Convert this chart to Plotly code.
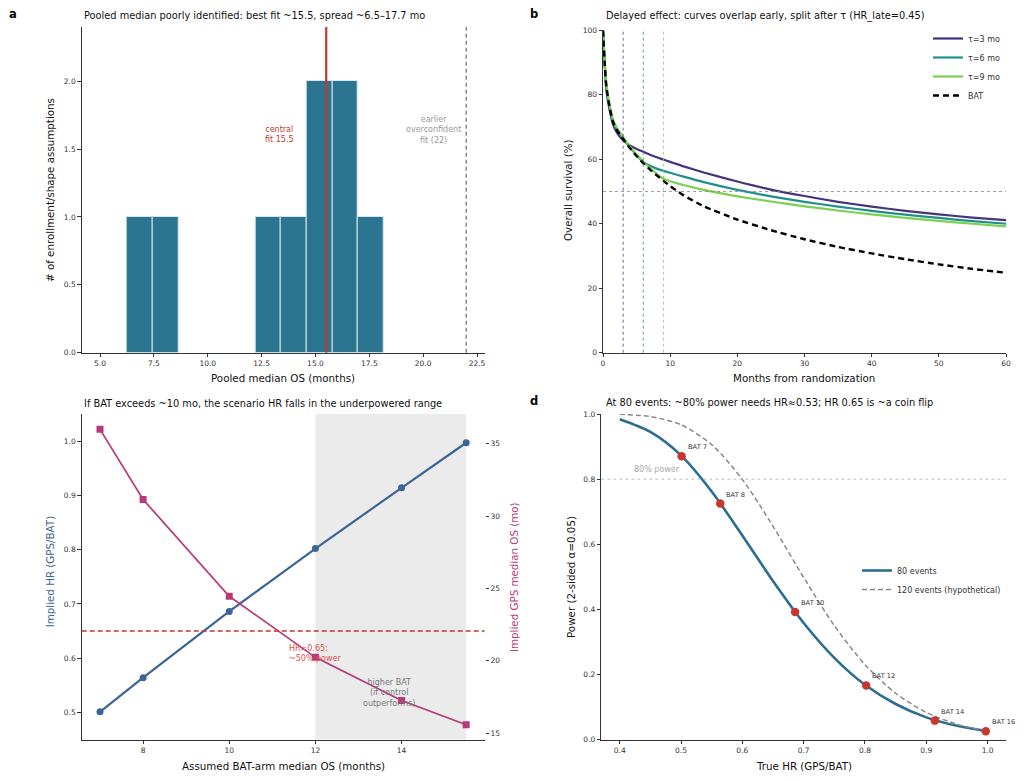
import plotly.graph_objects as go

# ---------------- data ----------------
# panel a: histogram of pooled median OS fits
hist_edges = [6.24, 7.43, 8.63, 9.82, 11.01, 12.21, 13.40, 14.60, 15.79, 16.98, 18.18]
hist_counts = [1, 1, 0, 0, 0, 1, 1, 2, 2, 1]
central_fit = 15.5
earlier_fit = 22.0

# panel b: survival curves (months, % surviving)
months = [0, 0.25, 0.5, 1, 1.5, 2, 3, 4, 5, 6, 7, 8, 9, 10, 11, 12, 15, 20, 25, 30, 35, 40, 45, 50, 55, 60]
os_tau3 = [100, 89.5, 81.5, 75.0, 70.8, 68.5, 65.8, 64.3, 63.2, 62.3, 61.4, 60.6, 59.9, 59.2, 58.5, 57.8, 55.9, 53.1, 50.6, 48.6, 46.8, 45.3, 44.0, 42.9, 41.9, 41.1]
os_tau6 = [100, 90.0, 82.5, 76.0, 71.7, 69.4, 66.5, 63.7, 61.3, 59.0, 58.0, 57.1, 56.4, 55.8, 55.2, 54.6, 52.9, 50.5, 48.5, 46.8, 45.3, 44.0, 42.8, 41.8, 40.8, 40.0]
os_tau9 = [100, 90.5, 83.3, 76.8, 72.3, 70.0, 66.9, 64.0, 61.5, 59.3, 57.3, 55.5, 54.0, 53.2, 52.6, 52.0, 50.5, 48.5, 46.9, 45.4, 44.1, 42.9, 41.8, 40.9, 40.0, 39.2]
os_bat = [100, 90.0, 82.5, 76.0, 71.5, 69.3, 66.3, 63.5, 61.0, 58.8, 56.8, 55.0, 53.3, 51.7, 50.2, 48.8, 45.4, 41.3, 38.0, 35.2, 32.8, 30.8, 29.0, 27.4, 26.0, 24.8]
tau_values = [3, 6, 9]
survival_ref = 50

# panel c: implied HR and implied GPS median by assumed BAT median
bat_median = [7, 8, 10, 12, 14, 15.5]
implied_hr = [0.501, 0.564, 0.686, 0.802, 0.914, 0.997]
implied_gps_median = [36.0, 31.15, 24.46, 20.24, 17.26, 15.58]
hr_threshold = 0.65
shade_start, shade_end = 12, 15.5

# panel d: power curves
hr_grid = [0.40, 0.45, 0.50, 0.55, 0.60, 0.65, 0.70, 0.75, 0.80, 0.85, 0.90, 0.95, 1.00]
power_80 = [0.984, 0.945, 0.873, 0.762, 0.627, 0.487, 0.358, 0.251, 0.168, 0.109, 0.068, 0.042, 0.025]
power_120 = [0.999, 0.992, 0.967, 0.906, 0.799, 0.655, 0.498, 0.350, 0.230, 0.142, 0.083, 0.047, 0.025]
scenario_labels = ["BAT 7", "BAT 8", "BAT 10", "BAT 12", "BAT 14", "BAT 16"]
scenario_power = [0.870, 0.725, 0.392, 0.166, 0.058, 0.025]
power_target = 0.8

# ---------------- styling ----------------
W, H = 1024, 781
FONT = "DejaVu Sans"
AX = "#333333"
TEAL_BAR = "#2c7590"
RED = "#c0392b"
GRAY = "#888888"
C_TAU = ["#46327e", "#21908d", "#7ad151"]
BLUE_C = "#3b6596"
MAG_C = "#b8387c"
BLUE_D = "#2c6e92"
DOT_RED = "#c8372d"
TITLE_SIZE = 9.8
LABEL_SIZE = 10.3


def px(x):
    return x / W


def py(y):
    return 1 - y / H


def axis(domain, rng, anchor, **kw):
    d = dict(domain=domain, range=rng, anchor=anchor, showgrid=False, zeroline=False,
             showline=True, linecolor=AX, linewidth=1, ticks="outside", ticklen=3.5,
             tickwidth=0.8, tickcolor=AX, tickfont=dict(family=FONT, size=7.5, color="#333"),
             mirror=False, automargin=False)
    d.update(kw)
    return d


fig = go.Figure()

# ---- panel a ----
bars = [((hist_edges[i] + hist_edges[i + 1]) / 2, hist_edges[i + 1] - hist_edges[i], c)
        for i, c in enumerate(hist_counts) if c > 0]
fig.add_trace(go.Bar(x=[b[0] for b in bars], y=[b[2] for b in bars], width=[b[1] for b in bars],
                     marker=dict(color=TEAL_BAR, line=dict(color="#d5e6ec", width=1)),
                     xaxis="x", yaxis="y", showlegend=False))

# ---- panel b ----
for vals, tau, col in zip([os_tau3, os_tau6, os_tau9], tau_values, C_TAU):
    fig.add_trace(go.Scatter(x=months, y=vals, mode="lines", line=dict(color=col, width=2.2, shape="spline", smoothing=0.5),
                             name=f"τ={tau} mo", xaxis="x2", yaxis="y2", legend="legend"))
fig.add_trace(go.Scatter(x=months, y=os_bat, mode="lines", line=dict(color="black", width=2.4, dash="6px,4px", shape="spline", smoothing=0.5),
                         name="BAT", xaxis="x2", yaxis="y2", legend="legend"))

# ---- panel c ----
fig.add_trace(go.Scatter(x=bat_median, y=implied_hr, mode="lines+markers",
                         line=dict(color=BLUE_C, width=2.2), marker=dict(color=BLUE_C, size=7, symbol="circle"),
                         xaxis="x3", yaxis="y3", showlegend=False))
fig.add_trace(go.Scatter(x=bat_median, y=implied_gps_median, mode="lines+markers",
                         line=dict(color=MAG_C, width=1.7), marker=dict(color=MAG_C, size=7, symbol="square"),
                         xaxis="x3", yaxis="y4", showlegend=False))

# ---- panel d ----
fig.add_trace(go.Scatter(x=hr_grid, y=power_80, mode="lines", line=dict(color=BLUE_D, width=2.6, shape="spline", smoothing=0.8),
                         name="80 events", xaxis="x4", yaxis="y5", legend="legend2"))
fig.add_trace(go.Scatter(x=hr_grid, y=power_120, mode="lines", line=dict(color=GRAY, width=1.5, dash="5px,3px", shape="spline", smoothing=0.8),
                         name="120 events (hypothetical)", xaxis="x4", yaxis="y5", legend="legend2"))
fig.add_trace(go.Scatter(x=implied_hr, y=scenario_power, mode="markers", marker=dict(color=DOT_RED, size=8.5),
                         xaxis="x4", yaxis="y5", showlegend=False))

# ---------------- shapes ----------------
shapes = []
shapes.append(dict(type="line", xref="x", yref="y domain", x0=central_fit, x1=central_fit, y0=0, y1=1,
                   line=dict(color=RED, width=2.2)))
shapes.append(dict(type="line", xref="x", yref="y domain", x0=earlier_fit, x1=earlier_fit, y0=0, y1=1,
                   line=dict(color=GRAY, width=1.5, dash="4px,3px")))
for tau, col in zip(tau_values, C_TAU):
    shapes.append(dict(type="line", xref="x2", yref="y2 domain", x0=tau, x1=tau, y0=0, y1=1,
                       line=dict(color=col, width=0.9, dash="dot"), opacity=0.85))
shapes.append(dict(type="line", xref="x2 domain", yref="y2", x0=0, x1=1, y0=survival_ref, y1=survival_ref,
                   line=dict(color=GRAY, width=0.8, dash="dot")))
shapes.append(dict(type="rect", xref="x3", yref="y3 domain", x0=shade_start, x1=shade_end, y0=0, y1=1,
                   fillcolor="#ebebeb", line=dict(width=0), layer="below"))
shapes.append(dict(type="line", xref="x3 domain", yref="y3", x0=0, x1=1, y0=hr_threshold, y1=hr_threshold,
                   line=dict(color=RED, width=1.4, dash="5px,3px")))
shapes.append(dict(type="line", xref="x4 domain", yref="y5", x0=0, x1=1, y0=power_target, y1=power_target,
                   line=dict(color="#bbbbbb", width=1, dash="dot")))

# ---------------- annotations ----------------
ann = []


def txt(x, y, s, size=TITLE_SIZE, color="#111", angle=0, xanchor="center", yanchor="middle", bold=False, align="center"):
    if bold:
        s = f"<b>{s}</b>"
    ann.append(dict(x=px(x), y=py(y), xref="paper", yref="paper", text=s, showarrow=False,
                    font=dict(family=FONT, size=size, color=color), textangle=angle,
                    xanchor=xanchor, yanchor=yanchor, align=align))


# panel letters
txt(12.7, 14, "a", size=11.5, bold=True, color="black")
txt(534, 14, "b", size=11.5, bold=True, color="black")
txt(534, 401, "d", size=11.5, bold=True, color="black")
# titles
txt(82, 15.7, "Pooled median poorly identified: best fit ~15.5, spread ~6.5–17.7 mo", xanchor="left")
txt(603.5, 15.7, "Delayed effect: curves overlap early, split after τ (HR_late=0.45)", xanchor="left")
txt(82, 403.3, "If BAT exceeds ~10 mo, the scenario HR falls in the underpowered range", xanchor="left")
txt(603.5, 402.7, "At 80 events: ~80% power needs HR≈0.53; HR 0.65 is ~a coin flip", xanchor="left")
# axis titles
txt(283.3, 378.3, "Pooled median OS (months)", size=LABEL_SIZE)
txt(50, 190, "# of enrollment/shape assumptions", size=LABEL_SIZE, angle=-90)
txt(804.3, 378.3, "Months from randomization", size=LABEL_SIZE)
txt(568, 190, "Overall survival (%)", size=LABEL_SIZE, angle=-90)
txt(283, 765.7, "Assumed BAT-arm median OS (months)", size=LABEL_SIZE)
txt(50, 572.3, "Implied HR (GPS/BAT)", size=LABEL_SIZE, angle=-90, color=BLUE_C)
txt(514, 577, "Implied GPS median OS (mo)", size=LABEL_SIZE, angle=-90, color=MAG_C)
txt(804.3, 765.7, "True HR (GPS/BAT)", size=LABEL_SIZE)
txt(570.3, 576.7, "Power (2-sided α=0.05)", size=LABEL_SIZE, angle=-90)

# in-plot annotations
ann.append(dict(x=13.32, y=1.61, xref="x", yref="y", text="central<br>fit 15.5", showarrow=False,
                font=dict(family=FONT, size=8, color=RED), align="center"))
ann.append(dict(x=20.5, y=1.64, xref="x", yref="y", text="earlier<br>overconfident<br>fit (22)", showarrow=False,
                font=dict(family=FONT, size=8, color="#999999"), align="center"))
ann.append(dict(x=11.35, y=0.608, xref="x3", yref="y3", text="HR=0.65:<br>~50% power", showarrow=False,
                font=dict(family=FONT, size=8, color="#d9534a"), align="left", xanchor="left"))
ann.append(dict(x=13.7, y=0.535, xref="x3", yref="y3", text="higher BAT<br>(if control<br>outperforms)", showarrow=False,
                font=dict(family=FONT, size=8, color="#777777"), align="center"))
ann.append(dict(x=0.42, y=0.828, xref="x4", yref="y5", text="80% power", showarrow=False,
                font=dict(family=FONT, size=8, color="#aaaaaa"), xanchor="left"))
for hr, pw, lab in zip(implied_hr, scenario_power, scenario_labels):
    ann.append(dict(x=hr, y=pw, xref="x4", yref="y5", text=lab, showarrow=False, xanchor="left", yanchor="middle",
                    xshift=4, yshift=9, font=dict(family=FONT, size=6.7, color="#333333")))

# ---------------- layout ----------------
dom_a_x = [px(81.7), px(485)]
dom_top_y = [py(352.7), py(27)]
dom_b_x = [px(603), px(1006)]
dom_c_x = [px(81.7), px(484.5)]
dom_bot_y = [py(739.5), py(414)]
dom_d_x = [px(601.3), px(1006)]

fig.update_layout(
    width=W, height=H, margin=dict(l=0, r=0, t=0, b=0),
    paper_bgcolor="white", plot_bgcolor="white",
    font=dict(family=FONT, color="#222"),
    bargap=0,
    xaxis=axis(dom_a_x, [4.15, 22.87], "y", tick0=5, dtick=2.5, tickformat=".1f"),
    yaxis=axis(dom_top_y, [0, 2.4], "x", tick0=0, dtick=0.5, tickformat=".1f"),
    xaxis2=axis(dom_b_x, [0, 60], "y2", tick0=0, dtick=10),
    yaxis2=axis([py(352.7), py(30.3)], [0, 100], "x2", tick0=0, dtick=20),
    xaxis3=axis(dom_c_x, [6.575, 15.925], "y3", tickvals=[8, 10, 12, 14]),
    yaxis3=axis(dom_bot_y, [0.45, 1.05], "x3", tickvals=[0.5, 0.6, 0.7, 0.8, 0.9, 1.0], tickformat=".1f"),
    yaxis4=axis(dom_bot_y, [14.56, 37.06], "x3", overlaying="y3", side="right", showline=False,
                tickvals=[15, 20, 25, 30, 35]),
    xaxis4=axis(dom_d_x, [0.37, 1.03], "y5", tickvals=[0.4, 0.5, 0.6, 0.7, 0.8, 0.9, 1.0], tickformat=".1f"),
    yaxis5=axis(dom_bot_y, [0, 1.0], "x4", tickvals=[0, 0.2, 0.4, 0.6, 0.8, 1.0], tickformat=".1f"),
    legend=dict(x=px(928), y=py(24), xanchor="left", yanchor="top", bgcolor="rgba(255,255,255,0)",
                font=dict(family=FONT, size=8, color="#333"), itemwidth=30, tracegroupgap=0),
    legend2=dict(x=px(857), y=py(556), xanchor="left", yanchor="top", bgcolor="rgba(255,255,255,0)",
                 font=dict(family=FONT, size=8, color="#333"), itemwidth=30, tracegroupgap=0),
    shapes=shapes,
    annotations=ann,
)

fig.write_html("out.html", config={"displayModeBar": False},
               post_script=["document.body.style.margin='0px';"])
